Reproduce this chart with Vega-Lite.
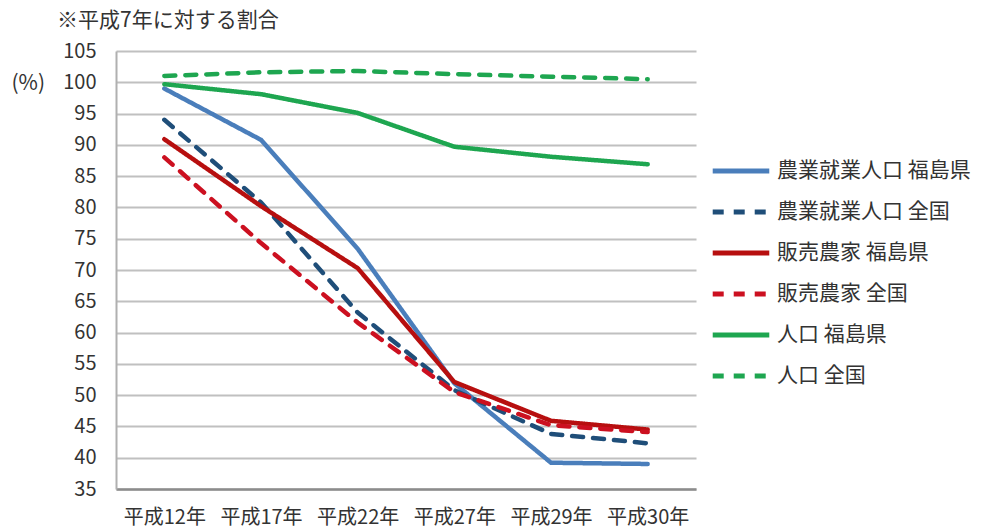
{
  "$schema": "https://vega.github.io/schema/vega-lite/v6.json",
  "width": 580,
  "height": 438,
  "autosize": {"type": "none"},
  "padding": {"left": 116, "top": 51, "right": 288, "bottom": 39},
  "background": "white",
  "title": {
    "text": "※平成7年に対する割合",
    "anchor": "start",
    "frame": "group",
    "dx": -59,
    "offset": 10,
    "fontSize": 21,
    "fontWeight": "normal",
    "font": "Noto Sans CJK JP",
    "color": "#333333"
  },
  "data": {
    "values": [
      {"年": "平成12年", "系列": "農業就業人口 福島県", "値": 99.0},
      {"年": "平成17年", "系列": "農業就業人口 福島県", "値": 90.8},
      {"年": "平成22年", "系列": "農業就業人口 福島県", "値": 73.4},
      {"年": "平成27年", "系列": "農業就業人口 福島県", "値": 51.9},
      {"年": "平成29年", "系列": "農業就業人口 福島県", "値": 39.2},
      {"年": "平成30年", "系列": "農業就業人口 福島県", "値": 39.0},
      {"年": "平成12年", "系列": "農業就業人口 全国", "値": 94.0},
      {"年": "平成17年", "系列": "農業就業人口 全国", "値": 80.8},
      {"年": "平成22年", "系列": "農業就業人口 全国", "値": 63.2},
      {"年": "平成27年", "系列": "農業就業人口 全国", "値": 50.8},
      {"年": "平成29年", "系列": "農業就業人口 全国", "値": 43.8},
      {"年": "平成30年", "系列": "農業就業人口 全国", "値": 42.3},
      {"年": "平成12年", "系列": "販売農家 福島県", "値": 90.9},
      {"年": "平成17年", "系列": "販売農家 福島県", "値": 80.2},
      {"年": "平成22年", "系列": "販売農家 福島県", "値": 70.3},
      {"年": "平成27年", "系列": "販売農家 福島県", "値": 52.1},
      {"年": "平成29年", "系列": "販売農家 福島県", "値": 45.9},
      {"年": "平成30年", "系列": "販売農家 福島県", "値": 44.5},
      {"年": "平成12年", "系列": "販売農家 全国", "値": 88.0},
      {"年": "平成17年", "系列": "販売農家 全国", "値": 74.3},
      {"年": "平成22年", "系列": "販売農家 全国", "値": 61.6},
      {"年": "平成27年", "系列": "販売農家 全国", "値": 50.5},
      {"年": "平成29年", "系列": "販売農家 全国", "値": 45.2},
      {"年": "平成30年", "系列": "販売農家 全国", "値": 44.1},
      {"年": "平成12年", "系列": "人口 福島県", "値": 99.7},
      {"年": "平成17年", "系列": "人口 福島県", "値": 98.1},
      {"年": "平成22年", "系列": "人口 福島県", "値": 95.1},
      {"年": "平成27年", "系列": "人口 福島県", "値": 89.7},
      {"年": "平成29年", "系列": "人口 福島県", "値": 88.1},
      {"年": "平成30年", "系列": "人口 福島県", "値": 86.9},
      {"年": "平成12年", "系列": "人口 全国", "値": 101.0},
      {"年": "平成17年", "系列": "人口 全国", "値": 101.6},
      {"年": "平成22年", "系列": "人口 全国", "値": 101.8},
      {"年": "平成27年", "系列": "人口 全国", "値": 101.3},
      {"年": "平成29年", "系列": "人口 全国", "値": 100.9},
      {"年": "平成30年", "系列": "人口 全国", "値": 100.5}
    ]
  },
  "mark": {"type": "line", "strokeWidth": 4.5, "strokeCap": "round", "strokeJoin": "round"},
  "encoding": {
    "x": {
      "field": "年",
      "type": "ordinal",
      "sort": ["平成12年", "平成17年", "平成22年", "平成27年", "平成29年", "平成30年"],
      "scale": {"type": "point", "padding": 0.5},
      "axis": {
        "title": null,
        "labelAngle": 0,
        "labelFontSize": 20,
        "labelPadding": 18,
        "tickSize": 0,
        "grid": false,
        "domainColor": "#8c8c8c",
        "domainWidth": 2.5
      }
    },
    "y": {
      "field": "値",
      "type": "quantitative",
      "scale": {"domain": [35, 105], "nice": false, "zero": false},
      "axis": {
        "values": [35, 40, 45, 50, 55, 60, 65, 70, 75, 80, 85, 90, 95, 100, 105],
        "title": "(%)",
        "titleAngle": 0,
        "titleAlign": "left",
        "titleBaseline": "middle",
        "titleX": -105,
        "titleY": 32,
        "titleFontSize": 21,
        "titleFontWeight": "normal",
        "labelFontSize": 20,
        "labelPadding": 20,
        "tickSize": 0,
        "grid": true,
        "gridColor": "#c0c0c0",
        "gridWidth": 2,
        "domainColor": "#b0b0b0",
        "domainWidth": 2
      }
    },
    "color": {
      "field": "系列",
      "type": "nominal",
      "scale": {
        "domain": ["農業就業人口 福島県", "農業就業人口 全国", "販売農家 福島県", "販売農家 全国", "人口 福島県", "人口 全国"],
        "range": ["#4a7ebb", "#1f4e79", "#b70f0f", "#cc1020", "#1ea650", "#1ea650"]
      },
      "legend": {
        "title": null,
        "orient": "none",
        "legendX": 594,
        "legendY": 89,
        "symbolType": "stroke",
        "symbolSize": 3200,
        "symbolStrokeWidth": 5,
        "labelFontSize": 21,
        "labelOffset": 5,
        "labelLimit": 300,
        "rowPadding": 0
      }
    },
    "strokeDash": {
      "field": "系列",
      "type": "nominal",
      "scale": {
        "domain": ["農業就業人口 福島県", "農業就業人口 全国", "販売農家 福島県", "販売農家 全国", "人口 福島県", "人口 全国"],
        "range": [[1, 0], [11, 10], [1, 0], [11, 10], [1, 0], [11, 10]]
      },
      "legend": {
        "title": null,
        "orient": "none",
        "legendX": 594,
        "legendY": 89,
        "symbolType": "stroke",
        "symbolSize": 3200,
        "symbolStrokeWidth": 5,
        "labelFontSize": 21,
        "labelOffset": 5,
        "labelLimit": 300,
        "rowPadding": 0
      }
    }
  },
  "config": {
    "font": "Noto Sans CJK JP",
    "view": {"stroke": null},
    "axis": {"labelColor": "#333333", "titleColor": "#333333"},
    "legend": {"labelColor": "#333333"}
  }
}
